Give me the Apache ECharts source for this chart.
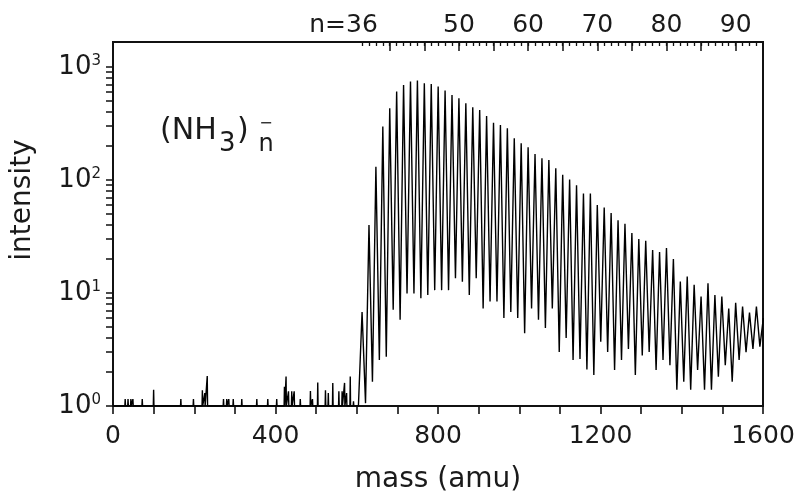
<!DOCTYPE html>
<html><head><meta charset="utf-8">
<script src="https://cdn.jsdelivr.net/npm/echarts@6/dist/echarts.min.js"></script>
<style>html,body{margin:0;padding:0;background:#fff}#c{width:797px;height:497px}</style>
</head><body><div id="c"></div>
<script>
// ---- data ----
const NH3_MASS = 17.03;
const clusterN = [36,37,38,39,40,41,42,43,44,45,46,47,48,49,50,51,52,53,54,55,56,57,58,59,60,61,62,63,64,65,66,67,68,69,70,71,72,73,74,75,76,77,78,79,80,81,82,83,84,85,86,87,88,89,90,91,92,93,94];
const peakIntensity = [6.8,40,131,297,431,605,694,743,757,717,707,670,618,565,528,477,440,416,369,321,307,287,234,211,195,170,156,150,127,111,101,90,76,76,60,57,51,44,41,34,30,29,24,23,25,20,12.6,14,11.8,9.3,12.2,9.6,9.3,7.3,8.2,7.6,6.7,7.6,6];
const troughIntensity = [1.06,1.64,2.55,2.73,7.1,5.8,9.9,9.9,9.0,9.6,10.6,10.6,10.6,13.5,12.6,9.6,13.5,7.3,8.4,8.4,6.0,6.8,6.0,4.4,7.3,5.8,4.9,7.3,3.0,4.0,2.55,2.6,2.1,1.88,3.7,3.0,2.08,2.55,3.2,1.88,2.8,3.0,2.08,2.55,2.3,1.39,1.64,1.39,2.08,1.39,1.39,1.82,2.3,1.64,2.55,3.0,3.2,3.35];
const noiseMass = [30,37,44,49,72,100,167,198,220,226,232,272,280,285,296,317,354,381,403,422,426,432,440,446,461,486,491,504,523,530,541,556,564,570,575,584,592];
const noiseIntensity = [1.15,1.15,1.15,1.15,1.15,1.39,1.15,1.15,1.38,1.3,1.84,1.15,1.15,1.15,1.15,1.15,1.15,1.15,1.15,1.48,1.82,1.35,1.35,1.35,1.15,1.36,1.15,1.61,1.38,1.3,1.6,1.35,1.35,1.6,1.3,1.82,1.1];
const massTickLabels = [0,400,800,1200,1600];
const clusterTickLabels = [36,50,60,70,80,90];
const clusterMajorTicks = [40,45,50,55,60,65,70,75,80,85,90];
const decadeLabels = [0,1,2,3];

// ---- build ----
const MASS_MAX = 1600, Y_MIN = 1, Y_MAX = 1663;
const FONT = 'DejaVu Sans', INK = '#1a1a1a';
const nMax = MASS_MAX / NH3_MASS;
const logMax = Math.log10(Y_MAX);

const spectrum = [[0, 1]];
noiseMass.forEach((m, i) => { spectrum.push([m - 0.8, 1], [m, noiseIntensity[i]], [m + 0.8, 1]); });
spectrum.push([clusterN[0] * NH3_MASS - 9, 1]);
clusterN.forEach((n, i) => {
  const m = n * NH3_MASS;
  spectrum.push([m, peakIntensity[i]]);
  if (i < troughIntensity.length) spectrum.push([m + NH3_MASS / 2, troughIntensity[i]]);
});

const minorClusterTicks = [];
for (let n = clusterN[0]; n <= Math.floor(nMax); n++) minorClusterTicks.push(n);
const yTickValues = [];
for (let d = 0; d < 3; d++) for (let k = 1; k <= 9; k++) yTickValues.push(Math.log10(k * Math.pow(10, d)));
yTickValues.push(3);

const chart = echarts.init(document.getElementById('c'));
chart.setOption({
  animation: false,
  backgroundColor: '#fff',
  grid: { left: 113, right: 34, top: 42, bottom: 91, show: true, borderColor: '#111', borderWidth: 2, backgroundColor: 'transparent', outerBoundsMode: 'none' },
  xAxis: [
    { type: 'value', min: 0, max: MASS_MAX, interval: 100, position: 'bottom',
      axisLine: { show: false }, splitLine: { show: false },
      axisTick: { show: true, inside: false, length: 8, lineStyle: { color: '#111', width: 1.6 } },
      axisLabel: { customValues: massTickLabels, margin: 18, color: INK, fontFamily: FONT, fontSize: 25, formatter: v => String(v) },
      name: 'mass (amu)', nameLocation: 'middle', nameGap: 60,
      nameTextStyle: { color: INK, fontFamily: FONT, fontSize: 28 } },
    { type: 'value', min: 0, max: nMax, position: 'top',
      axisLine: { show: false }, splitLine: { show: false },
      axisTick: { show: true, inside: true, length: 4, customValues: minorClusterTicks, lineStyle: { color: '#111', width: 1.3 } },
      axisLabel: { show: false } },
    { type: 'value', min: 0, max: nMax, position: 'top',
      axisLine: { show: false }, splitLine: { show: false },
      axisTick: { show: true, inside: true, length: 9, customValues: clusterMajorTicks, lineStyle: { color: '#111', width: 1.5 } },
      axisLabel: { customValues: clusterTickLabels, margin: 4, color: INK, fontFamily: FONT, fontSize: 25,
        formatter: v => v === clusterTickLabels[0] ? '{d|n=' + v + '}{p|}' : String(v),
        rich: { d: { fontFamily: FONT, fontSize: 25, color: INK }, p: { width: 37 } } } }
  ],
  yAxis: [
    { type: 'log', logBase: 10, min: Y_MIN, max: Y_MAX, position: 'left',
      axisLine: { show: false }, axisTick: { show: false }, axisLabel: { show: false }, splitLine: { show: false } },
    { type: 'value', min: 0, max: logMax, position: 'left',
      axisLine: { show: false }, splitLine: { show: false },
      axisTick: { show: true, inside: false, length: 7, customValues: yTickValues, lineStyle: { color: '#111', width: 1.5 } },
      axisLabel: { customValues: decadeLabels, margin: 12, color: INK, fontFamily: FONT, fontSize: 26,
        formatter: v => '10{s|' + Math.round(v) + '}',
        rich: { s: { fontFamily: FONT, fontSize: 15, color: INK, verticalAlign: 'top', padding: [0, 0, 10, 0] } } },
      name: 'intensity', nameLocation: 'middle', nameGap: 76,
      nameTextStyle: { color: INK, fontFamily: FONT, fontSize: 28, padding: [0, 0, 0, 48] } }
  ],
  series: [{
    type: 'line', xAxisIndex: 0, yAxisIndex: 0, data: spectrum,
    showSymbol: false, symbol: 'none', sampling: null, clip: true,
    lineStyle: { color: '#000', width: 1.4 }
  }],
  graphic: [
    { type: 'text', x: 160, y: 131, style: { text: '(NH', fontFamily: FONT, fontSize: 30, fill: INK, verticalAlign: 'middle' } },
    { type: 'text', x: 219, y: 144, style: { text: '3', fontFamily: FONT, fontSize: 26, fill: INK, verticalAlign: 'middle' } },
    { type: 'text', x: 237, y: 131, style: { text: ')', fontFamily: FONT, fontSize: 30, fill: INK, verticalAlign: 'middle' } },
    { type: 'text', x: 266, y: 124, style: { text: '\u2212', fontFamily: FONT, fontSize: 16, fill: INK, align: 'center', verticalAlign: 'middle' } },
    { type: 'text', x: 266, y: 145, style: { text: 'n', fontFamily: FONT, fontSize: 24, fill: INK, align: 'center', verticalAlign: 'middle' } }
  ]
});
</script></body></html>
